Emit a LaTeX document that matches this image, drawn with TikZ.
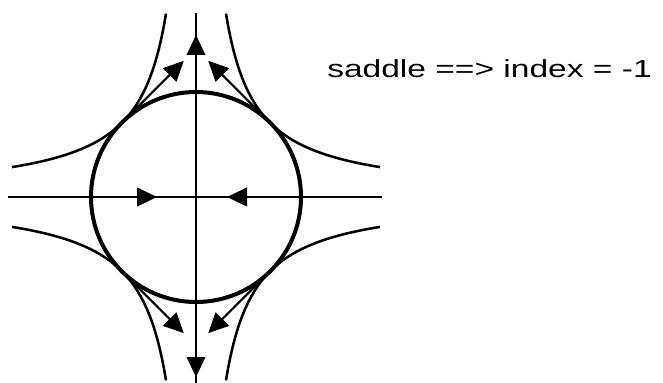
\documentclass[tikz,border=0pt]{standalone}
\usepackage{fontspec}
\setmainfont{Liberation Sans}
\usepackage{graphicx}
\usetikzlibrary{arrows.meta}

\begin{document}
\begin{tikzpicture}[x=0.75pt,y=0.75pt,
  flowtip/.style={-{Triangle[length=15pt,width=14pt]}},
  orbit/.style={line width=1.9pt}]
  \useasboundingbox (-196,-185) rectangle (467,197);
  % axes through the saddle point
  \coordinate (O) at (0,0);
  \draw[line width=1.5pt] (-188,0) -- (186,0);
  \draw[line width=1.1pt] (0,-186) -- (0,184);
  % the closed curve
  \draw[line width=3pt] (O) circle (105);
  % hyperbolic orbits
  \foreach \sx/\sy in {1/1,-1/1,1/-1,-1/-1}{
    \draw[orbit] plot[domain=30:184,samples=80,smooth] ({\sx*\x},{\sy*5500/\x});
  }
  % flow along the axes
  \draw[flowtip,line width=1.5pt] (-80,0) -- (-39,0);
  \draw[flowtip,line width=1.5pt] (80,0) -- (31,0);
  \draw[flowtip,line width=1.1pt] (0,100) -- (0,162);
  \draw[flowtip,line width=1.1pt] (0,-120) -- (0,-180);
  % tangent vectors on the circle
  \foreach \sx/\sy in {1/1,-1/1,1/-1,-1/-1}{
    \coordinate (t) at ({\sx*74.2},{\sy*74.2});
    \coordinate (h) at ({\sx*12.2},{\sy*136.2});
    \draw[flowtip,line width=1.6pt] (t) -- (h);
  }
  \node[anchor=base west,inner sep=0] (label) at (131,119)
    {\fontsize{18.5}{22}\selectfont\scalebox{1.36}[1]{saddle ==> index = -1}};
\end{tikzpicture}
\end{document}
